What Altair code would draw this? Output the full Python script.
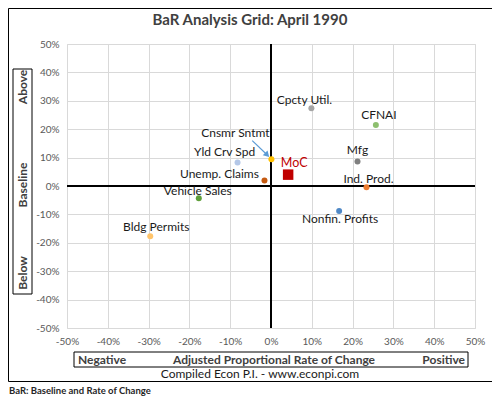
import altair as alt
import pandas as pd

# Data (percent units)
names = ["Cpcty Util.", "CFNAI", "Mfg", "Ind. Prod.", "MoC", "Cnsmr Sntmt",
         "Yld Crv Spd", "Unemp. Claims", "Vehicle Sales", "Bldg Permits", "Nonfin. Profits"]
rate_change = [9.9, 25.7, 21.2, 23.4, 4.2, 0.1, -8.2, -1.6, -17.7, -29.6, 16.7]
baseline = [27.4, 21.5, 8.6, -0.4, 4.0, 9.4, 8.3, 1.9, -4.3, -17.7, -8.8]
colors = ["#A5A5A5", "#8DBF6E", "#7F7F7F", "#ED7D31", "#C00000", "#FFC000",
          "#B4C7E7", "#C55A11", "#5E9E3A", "#FFC46B", "#4F88C6"]
ticks = [-50, -40, -30, -20, -10, 0, 10, 20, 30, 40, 50]

# label offsets (pixels) - layout only
offsets = {
    "Cpcty Util.": (-7, -8), "CFNAI": (3, -10), "Mfg": (0, -12), "Ind. Prod.": (2, -8),
    "MoC": (6, -12), "Cnsmr Sntmt": (-36, -26), "Yld Crv Spd": (-13, -10),
    "Unemp. Claims": (-45, -7), "Vehicle Sales": (-1, -7), "Bldg Permits": (6, -9),
    "Nonfin. Profits": (1, 8),
}

df = pd.DataFrame({"name": names, "x": rate_change, "y": baseline})
FONT = "Lato"
W, H = 408, 284

xs = alt.Scale(domain=[-50, 50], nice=False, zero=False)
ys = alt.Scale(domain=[-50, 50], nice=False, zero=False)

ax = dict(values=ticks, labelExpr="datum.value + '%'", grid=True, gridColor="#D9D9D9",
          domain=False, ticks=False, labelPadding=8, labelFontSize=10, labelOverlap=False,
          labelBound=False, labelFlush=False, labelColor="#595959", labelFont=FONT,
          tickCount=11)
AX = alt.Axis(**ax)


def X(f):
    return alt.X(f, scale=xs, axis=AX, title=None)


def Y(f):
    return alt.Y(f, scale=ys, axis=AX, title=None)


base = alt.Chart(df)

zero_v = alt.Chart(pd.DataFrame({"v": [0]})).mark_rule(color="black", strokeWidth=2).encode(
    x=X("v:Q"))
zero_h = alt.Chart(pd.DataFrame({"v": [0]})).mark_rule(color="black", strokeWidth=2).encode(
    y=Y("v:Q"))

cscale = alt.Scale(domain=names, range=colors)
pts = base.transform_filter(alt.datum.name != "MoC").mark_circle(size=36, opacity=1).encode(
    x=X("x:Q"), y=Y("y:Q"), color=alt.Color("name:N", scale=cscale, legend=None))
moc = base.transform_filter(alt.datum.name == "MoC").mark_square(size=110, opacity=1, filled=True,
                                                                 cornerRadius=2).encode(
    x=X("x:Q"), y=Y("y:Q"), color=alt.Color("name:N", scale=cscale, legend=None))

labels = []
for n in names:
    dx, dy = offsets[n]
    labels.append(base.transform_filter(alt.datum.name == n).mark_text(
        dx=dx, dy=dy, font=FONT, fontSize=12.5 if n == "MoC" else 12,
        color="#C00000" if n == "MoC" else "#1a1a1a").encode(
        x=X("x:Q"), y=Y("y:Q"), text="name:N"))

# arrow for Cnsmr Sntmt
arrow_df = pd.DataFrame({"x": [-4.6], "y": [16.0], "x2": [-1.1], "y2": [11.2]})
arrow_line = alt.Chart(arrow_df).mark_rule(color="#5B9BD5", strokeWidth=1.2).encode(
    x=X("x:Q"), y=Y("y:Q"), x2="x2:Q", y2="y2:Q")
arrow_head = alt.Chart(arrow_df).mark_point(shape="triangle", filled=True, size=45, angle=135,
                                            color="#5B9BD5", opacity=1).encode(
    x=X("x2:Q"), y=Y("y2:Q"))

one = pd.DataFrame({"a": [0]})


def box(x, x2, y, y2, sw=1):
    return alt.Chart(one).mark_rect(fill=None, stroke="black", strokeWidth=sw).encode(
        x=alt.value(x), x2=alt.value(x2), y=alt.value(y), y2=alt.value(y2))


def txt(s, x, y, size=12, bold=False, align="center", angle=0, color="#404040"):
    kw = dict(font=FONT, fontSize=size, fontWeight="bold" if bold else "normal", align=align,
              baseline="middle", color=color, text=s)
    if angle:
        kw["angle"] = angle
    return alt.Chart(one).mark_text(**kw).encode(x=alt.value(x), y=alt.value(y))


deco = [
    box(-58.5, 427.5, -35.5, 337.5),
    box(-54, -35, 25, 250),
    box(7, 401, 308, 323),
    txt("BaR Analysis Grid: April 1990", 183, -24, size=15, bold=True),
    txt("Above", -44.5, 43, bold=True, angle=270),
    txt("Baseline", -44.5, 141, bold=True, angle=270),
    txt("Below", -44.5, 229, bold=True, angle=270),
    txt("Negative", 11, 315.5, bold=True, align="left"),
    txt("Adjusted Proportional Rate of Change", 207, 315.5, bold=True),
    txt("Positive", 398, 315.5, bold=True, align="right"),
    txt("Compiled Econ P.I. - www.econpi.com", 193, 329.5, size=12, color="#1a1a1a"),
    txt("BaR: Baseline and Rate of Change", -58, 347, size=9.5, bold=True, align="left",
        color="#262626"),
]

chart = alt.layer(zero_v, zero_h, arrow_line, arrow_head, pts, moc, *labels, *deco).properties(
    width=W, height=H,
    autosize=alt.AutoSizeParams(type="none"),
    padding={"left": 59, "top": 36, "right": 17, "bottom": 69},
).configure_view(stroke=None).configure_axis(labelOverlap=False).configure(background="white")

chart.save("out.html", embed_options={"renderer": "svg", "actions": False})
